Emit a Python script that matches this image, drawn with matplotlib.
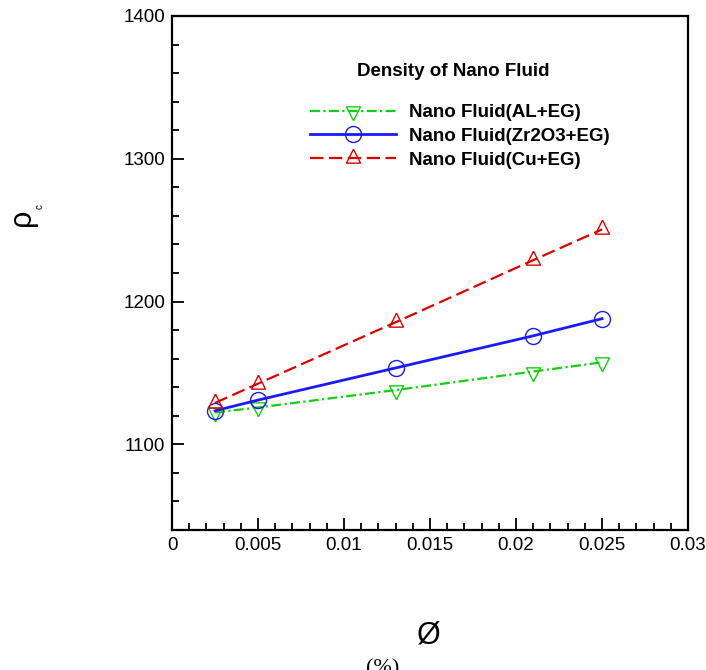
import matplotlib
matplotlib.use('Agg')
import matplotlib.pyplot as plt
from matplotlib.ticker import MultipleLocator, FormatStrFormatter

# volume fraction and nanofluid density for each particle type
phi = [0.0025, 0.005, 0.013, 0.021, 0.025]
rho_al = [1122.3, 1125.8, 1138.0, 1151.0, 1157.4]
rho_zr = [1123.5, 1131.0, 1153.5, 1176.0, 1188.0]
rho_cu = [1129.0, 1142.5, 1185.5, 1229.0, 1250.5]

labels = ['Nano Fluid(AL+EG)', 'Nano Fluid(Zr2O3+EG)', 'Nano Fluid(Cu+EG)']

plt.rcParams['font.family'] = ['Liberation Sans', 'DejaVu Sans']

# triangles centred on their centroid
tri_up = [(0, 1), (-0.75, -0.5), (0.75, -0.5), (0, 1)]
tri_dn = [(0, -1), (-0.75, 0.5), (0.75, 0.5), (0, -1)]

W, H = 706, 670
fig = plt.figure(figsize=(W / 100, H / 100), dpi=100)
ax = fig.add_axes([172 / W, 1 - 530 / H, (688 - 172) / W, (530 - 16) / H])

green = '#10d010'
blue = '#1a1aff'
red = '#dd0000'

ax.plot(phi, rho_al, color=green, lw=1.6, dashes=(4.5, 1.5, 1, 1.5),
        marker=tri_dn, ms=13.4, mfc='none', mec=green, mew=1.0, label=labels[0])
ax.plot(phi, rho_zr, color=blue, lw=2.0, linestyle='-',
        marker='o', ms=11.5, mfc='none', mec=blue, mew=1.0, label=labels[1])
ax.plot(phi, rho_cu, color=red, lw=1.6, dashes=(6, 2.5),
        marker=tri_up, ms=13.4, mfc='none', mec=red, mew=1.0, label=labels[2])

ax.set_xlim(0, 0.03)
ax.set_ylim(1040, 1400)
ax.xaxis.set_major_locator(MultipleLocator(0.005))
ax.xaxis.set_minor_locator(MultipleLocator(0.001))
ax.yaxis.set_major_locator(MultipleLocator(100))
ax.yaxis.set_minor_locator(MultipleLocator(20))
ax.xaxis.set_major_formatter(plt.FuncFormatter(lambda v, p: ('%g' % round(v, 4))))
ax.yaxis.set_major_formatter(FormatStrFormatter('%d'))

ax.tick_params(which='both', direction='in', top=False, right=False,
               labelsize=13.5, width=1.3, pad=5)
ax.tick_params(which='major', length=8.5)
ax.tick_params(which='minor', length=4.7)
for s in ax.spines.values():
    s.set_linewidth(1.6)

# legend with its heading drawn as a separate text
fig.text(453 / W, 1 - 72 / H, 'Density of Nano Fluid', fontsize=13.5,
         fontweight='bold', ha='center', va='center')
leg = ax.legend(loc='upper left', bbox_to_anchor=(310 / W, 1 - 104 / H),
                bbox_transform=fig.transFigure, frameon=False, numpoints=1,
                handlelength=4.6, handletextpad=0.7, borderpad=0,
                borderaxespad=0, labelspacing=0.36,
                prop={'size': 13.5, 'weight': 'bold'})

# axis titles
fig.text(22 / W, 1 - 217 / H, 'ρ', fontsize=22, rotation=90,
         ha='center', va='center')
fig.text(40 / W, 1 - 207 / H, 'c', fontsize=7, rotation=90,
         ha='center', va='center')
fig.text(429 / W, 1 - 635 / H, 'Ø', fontsize=22, ha='center', va='center')
fig.text(383 / W, 1 - 659 / H, '(%)', fontsize=16, family='Liberation Serif',
         ha='center', va='top')

fig.savefig('out.png', dpi=100)
